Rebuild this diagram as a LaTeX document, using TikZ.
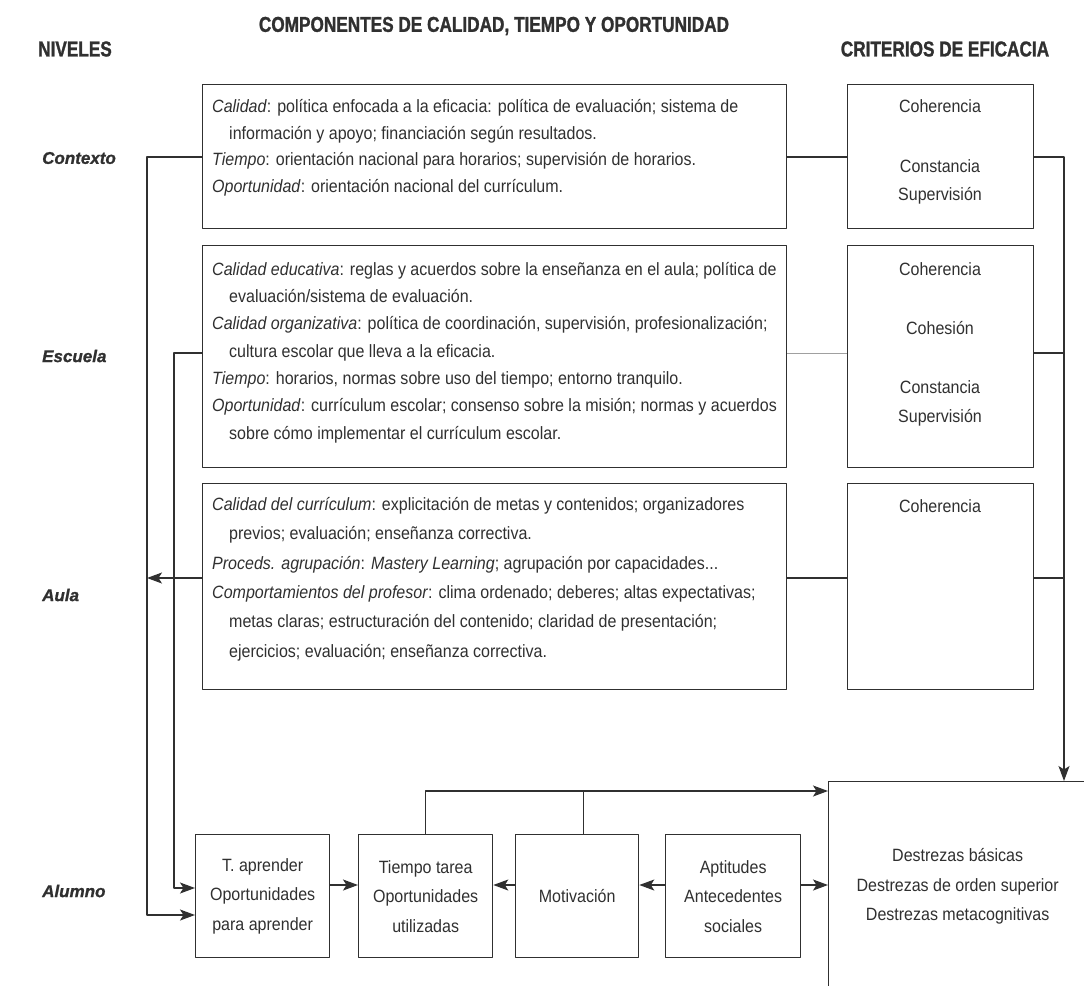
\documentclass[tikz,border=0pt]{standalone}
\usepackage{fontspec}
\setmainfont{Liberation Sans}[FakeStretch=0.9]
\newfontfamily\headfont[FakeStretch=0.8,FakeBold=1.2]{Liberation Sans}
\newfontfamily\levelfont[FakeBold=1]{Liberation Sans}
\usetikzlibrary{arrows.meta}
\definecolor{ink}{HTML}{303030}
\definecolor{pale}{HTML}{A0A0A0}
\tikzset{
  frame/.style={draw=ink,line width=1.3pt,inner sep=0pt,anchor=north west},
  boxtext/.style={anchor=north west,inner sep=0pt,align=left,text=ink},
  crittext/.style={anchor=north,inner sep=0pt,align=center,text=ink},
  pupil/.style={frame,align=center,text=ink,font=\fontsize{17.8}{29.5}\selectfont},
  head/.style={text=ink,inner sep=0pt,font=\headfont\bfseries\fontsize{21.5}{24}\selectfont},
  level/.style={text=ink,inner sep=0pt,anchor=west,font=\levelfont\bfseries\itshape\fontsize{17}{20}\selectfont},
  wire/.style={draw=ink,line width=1.3pt},
  palewire/.style={draw=pale,line width=.8pt},
  arrowed/.style={-{Stealth[length=15pt,width=11pt,inset=3.5pt]}}
}
\begin{document}
\begin{tikzpicture}[x=1pt,y=-1pt,line join=round]
\path[fill=white,use as bounding box] (0,0) rectangle (1084,985);
\node[head] (comphead) at (494,26) {COMPONENTES DE CALIDAD, TIEMPO Y OPORTUNIDAD};
\node[head,anchor=west] (nivhead) at (38,49) {NIVELES};
\node[head] (crithead) at (945,49) {CRITERIOS DE EFICACIA};
\node[level] (ctxlabel) at (42,158) {Contexto};
\node[level] (eculabel) at (42,356) {Escuela};
\node[level] (aulalabel) at (42,595) {Aula};
\node[level] (alulabel) at (42,891) {Alumno};
\node[frame,minimum width=584,minimum height=144] (ctxbox) at (202,84) {};
\node[frame,minimum width=584,minimum height=222] (ecubox) at (202,245) {};
\node[frame,minimum width=584,minimum height=206] (aulbox) at (202,483) {};
\node[frame,minimum width=186,minimum height=144] (ctxcrit) at (847,84) {};
\node[frame,minimum width=186,minimum height=222] (ecucrit) at (847,245) {};
\node[frame,minimum width=186,minimum height=206] (aulcrit) at (847,483) {};
\node[boxtext,font=\fontsize{17.8}{26.7}\selectfont] (ctxtext) at (212,99) {%
\textit{Calidad}: política enfocada a la eficacia: política de evaluación; sistema de\\
\hspace*{17pt}información y apoyo; financiación según resultados.\\
\textit{Tiempo}: orientación nacional para horarios; supervisión de horarios.\\
\textit{Oportunidad}: orientación nacional del currículum.};
\node[boxtext,font=\fontsize{17.8}{27.3}\selectfont] (ecutext) at (212,262) {%
\textit{Calidad educativa}: reglas y acuerdos sobre la enseñanza en el aula; política de\\
\hspace*{17pt}evaluación/sistema de evaluación.\\
\textit{Calidad organizativa}: política de coordinación, supervisión, profesionalización;\\
\hspace*{17pt}cultura escolar que lleva a la eficacia.\\
\textit{Tiempo}: horarios, normas sobre uso del tiempo; entorno tranquilo.\\
\textit{Oportunidad}: currículum escolar; consenso sobre la misión; normas y acuerdos\\
\hspace*{17pt}sobre cómo implementar el currículum escolar.};
\node[boxtext,font=\fontsize{17.8}{29.4}\selectfont] (aultext) at (212,497) {%
\textit{Calidad del currículum}: explicitación de metas y contenidos; organizadores\\
\hspace*{17pt}previos; evaluación; enseñanza correctiva.\\
\textit{Proceds. agrupación}: \textit{Mastery Learning}; agrupación por capacidades...\\
\textit{Comportamientos del profesor}: clima ordenado; deberes; altas expectativas;\\
\hspace*{17pt}metas claras; estructuración del contenido; claridad de presentación;\\
\hspace*{17pt}ejercicios; evaluación; enseñanza correctiva.};
\node[crittext,font=\fontsize{17.8}{28.5}\selectfont] (ctxcritext) at (940,99) {Coherencia\\[31.5pt]Constancia\\Supervisión};
\node[crittext,font=\fontsize{17.8}{29.5}\selectfont] (ecucritext) at (940,262) {Coherencia\\[29.5pt]Cohesión\\[29.5pt]Constancia\\Supervisión};
\node[crittext,font=\fontsize{17.8}{29.5}\selectfont] (aulcritext) at (940,499) {Coherencia};
\node[pupil,minimum width=134,minimum height=123] (tap) at (195,834) {T. aprender\\Oportunidades\\para aprender};
\node[pupil,minimum width=134,minimum height=123] (ttb) at (358,834) {Tiempo tarea\\Oportunidades\\utilizadas};
\node[pupil,minimum width=123,minimum height=123] (mot) at (515,834) {Motivación};
\node[pupil,minimum width=135,minimum height=123] (apt) at (665,834) {Aptitudes\\Antecedentes\\sociales};
\node[pupil,minimum width=258,minimum height=210] (des) at (828,781) {Destrezas básicas\\Destrezas de orden superior\\Destrezas metacognitivas};
\coordinate (lrail) at (147,0);
\coordinate (mrail) at (174,0);
\coordinate (rrail) at (1064,0);
\coordinate (ctxrow) at (0,157);
\coordinate (ecurow) at (0,353);
\coordinate (aularow) at (0,578);
\coordinate (alurowA) at (0,888);
\coordinate (alurowB) at (0,915);
\coordinate (midrow) at (0,885);
\coordinate (toprow) at (0,791);
\draw[wire,arrowed] (ctxbox.west |- ctxrow) -| (lrail |- alurowB) -- (tap.west |- alurowB);
\draw[wire,arrowed] (ecubox.west |- ecurow) -| (mrail |- alurowA) -- (tap.west |- alurowA);
\draw[wire,arrowed] (aulbox.west |- aularow) -- (lrail |- aularow);
\draw[wire] (ctxbox.east |- ctxrow) -- (ctxcrit.west |- ctxrow);
\draw[palewire] (ecubox.east |- ecurow) -- (ecucrit.west |- ecurow);
\draw[wire] (aulbox.east |- aularow) -- (aulcrit.west |- aularow);
\draw[wire,arrowed] (ctxcrit.east |- ctxrow) -| (rrail |- des.north);
\draw[wire] (ecucrit.east |- ecurow) -- (rrail |- ecurow);
\draw[wire] (aulcrit.east |- aularow) -- (rrail |- aularow);
\draw[wire,arrowed] (tap.east |- midrow) -- (ttb.west |- midrow);
\draw[wire,arrowed] (mot.west |- midrow) -- (ttb.east |- midrow);
\draw[wire,arrowed] (apt.west |- midrow) -- (mot.east |- midrow);
\draw[wire,arrowed] (apt.east |- midrow) -- (des.west |- midrow);
\draw[wire,arrowed] (ttb.north) |- (des.west |- toprow);
\draw[wire] ([xshift=6pt]mot.north) -- ([xshift=6pt]mot.north |- toprow);
\end{tikzpicture}
\end{document}
